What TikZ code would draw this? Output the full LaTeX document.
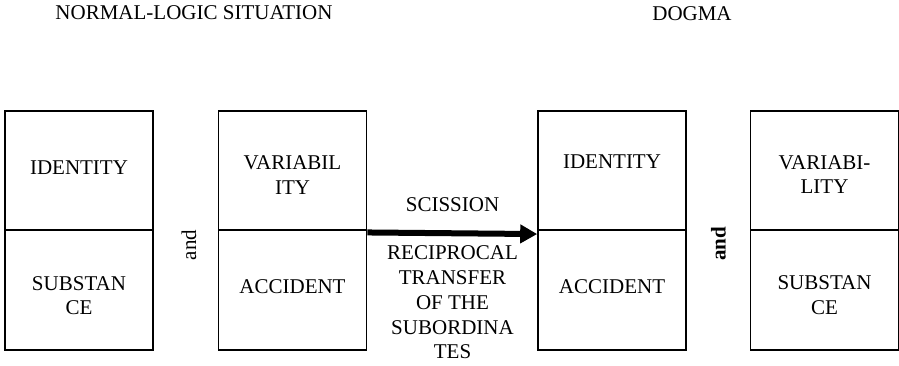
\documentclass[tikz,border=0pt]{standalone}
\usepackage{fontspec}
\setmainfont{Liberation Serif}
\usetikzlibrary{arrows.meta}

\begin{document}
\begin{tikzpicture}[x=1pt, y=-1pt,
    cell/.style={draw, line width=1.6pt, minimum width=148pt, minimum height=119.5pt, inner sep=0pt},
    word/.style={align=center, inner sep=0pt, font=\fontsize{21}{24.7}\selectfont}]
    % Fix the page size
    \useasboundingbox (0,0) rectangle (899,365);

    % Titles
    \node[word] (normal) at (194,13) {NORMAL-LOGIC SITUATION};
    \node[word] (dogma) at (692,14) {DOGMA};

    % Left pair of tables
    \node[cell] (idt1) at (79,170.5) {};
    \node[cell] (sub1) at (79,290) {};
    \node[cell] (var1) at (292.5,170.5) {};
    \node[cell] (acc1) at (292.5,290) {};
    \node[word] (idtA) at (79,168) {IDENTITY};
    \node[word] (subA) at (79,295.5) {SUBSTAN\\CE};
    \node[word] (varA) at (292.5,175) {VARIABIL\\ITY};
    \node[word] (accA) at (292.5,287) {ACCIDENT};
    \node[word, rotate=90] (and1) at (189,245) {and};

    % Right pair of tables
    \node[cell] (idt2) at (612,170.5) {};
    \node[cell] (acc2) at (612,290) {};
    \node[cell] (var2) at (824.5,170.5) {};
    \node[cell] (sub2) at (824.5,290) {};
    \node[word] (idtB) at (612,162) {IDENTITY};
    \node[word] (accB) at (612,287) {ACCIDENT};
    \node[word] (varB) at (824.5,174.5) {VARIABI-\\LITY};
    \node[word] (subB) at (824.5,295) {SUBSTAN\\CE};
    \node[word, rotate=90, font=\fontsize{21}{24.7}\selectfont\bfseries] (and2) at (718.5,244) {and};

    % The scission arrow
    \draw[line width=6pt, -{Triangle[length=17pt, width=18pt]}]
        ([yshift=-3pt]acc1.north east) -- ([yshift=-3pt]idt2.south west);
    \node[word] (sci) at (452.5,205) {SCISSION};
    \node[word] (rec) at (452.5,302.5) {RECIPROCAL\\TRANSFER\\OF THE\\SUBORDINA\\TES};
\end{tikzpicture}
\end{document}
